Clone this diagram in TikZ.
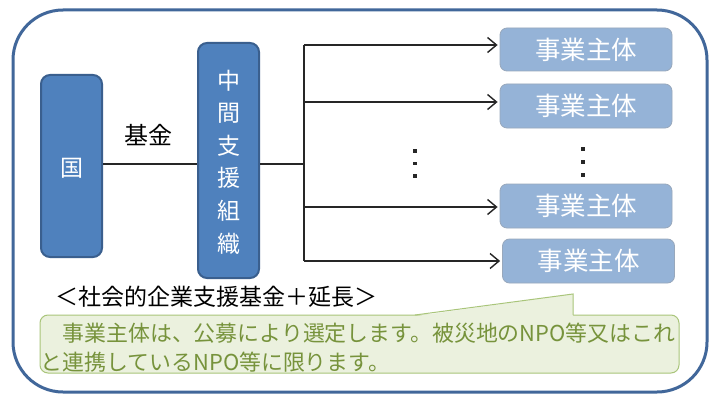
\documentclass[tikz,border=0pt]{standalone}
\usepackage{fontspec}
\newfontfamily\jp{Noto Sans CJK JP}
\usetikzlibrary{arrows.meta}
\definecolor{outerblue}{HTML}{41679A}
\definecolor{boxblue}{HTML}{4F81BD}
\definecolor{boxedge}{HTML}{3A5F8E}
\definecolor{entfill}{HTML}{95B3D7}
\definecolor{entedge}{HTML}{98A8BC}
\definecolor{notefill}{HTML}{EBF1DE}
\definecolor{noteedge}{HTML}{A9C57A}
\definecolor{notetext}{HTML}{77933C}
\tikzset{
  bigbox/.style={draw=boxedge, line width=2pt, fill=boxblue, rounded corners=9pt,
    minimum width=61pt, inner sep=0pt, text=white, font=\jp},
  entity/.style={draw=entedge, line width=0.8pt, fill=entfill, rounded corners=7pt,
    minimum width=172pt, minimum height=44pt, inner sep=0pt, text=white,
    font=\jp\fontsize{25.5}{25.5}\selectfont},
  conn/.style={line width=1.4pt, black!85},
  arr/.style={conn, -{Straight Barb[length=9pt, width=15pt, line width=1.4pt]}, shorten >=2pt},
  dotsq/.style={fill=black!85},
}
\begin{document}
\begin{tikzpicture}[x=1pt, y=-1pt]
\useasboundingbox (0,0) rectangle (715,396);
\fill[white] (0,0) rectangle (715,396);
% outer frame
\draw[outerblue, line width=3pt, rounded corners=50pt] (13,10) rectangle (707,392);
% main boxes
\node[bigbox, minimum height=182pt] (guo) at (71.5,166) {};
\node[text=white, font=\jp\fontsize{23}{23}\selectfont] (guot) at (71.5,168) {国};
\node[bigbox, minimum height=235pt] (mid) at (228.5,160.5) {};
\node[text=white, font=\jp\fontsize{23}{32.6}\selectfont, align=center, inner sep=0pt] (midt) at (228.5,162) {中\\間\\支\\援\\組\\織};
% entities
\node[entity, minimum height=43pt] (e1) at (586,49.5) {事業主体};
\node[entity] (e2) at (586,106) {事業主体};
\node[entity] (e3) at (586,206) {事業主体};
\node[entity] (e4) at (588.5,261) {事業主体};
% connectors
\coordinate (j) at (304,164);
\coordinate (b1) at (304,45);
\coordinate (b2) at (304,102);
\coordinate (b3) at (304,207);
\coordinate (b4) at (304,261);
\draw[conn] (guo.east |- j) -- (mid.west |- j);
\draw[conn] (mid.east |- j) -- (j);
\draw[conn] (b1) -- (b4);
\draw[arr] (b1) -- (b1 -| e1.west);
\draw[arr] (b2) -- (b2 -| e2.west);
\draw[arr] (b3) -- (b3 -| e3.west);
\draw[arr] (b4) -- (b4 -| e4.west);
\node[font=\jp\fontsize{24}{24}\selectfont] (fund) at (148,135) {基金};
% vertical dots
\foreach \yy in {151,163.5,176} {\fill[dotsq] (413.2,\yy-1.8) rectangle +(3.6,3.6);}
\foreach \yy in {149,162,175} {\fill[dotsq] (581.2,\yy-1.8) rectangle +(3.6,3.6);}
% label
\node[font=\jp\fontsize{23}{23}\selectfont, inner sep=0pt] (lab) at (216,297) {＜社会的企業支援基金＋延長＞};
% callout
\node[draw=noteedge, line width=1pt, fill=notefill, rounded corners=8pt, minimum width=639pt, minimum height=58pt, inner sep=0pt] (note) at (359.5,344) {};
\fill[notefill] (415,316.2) -- (573,294) -- (573,316.2) -- cycle;
\draw[noteedge, line width=1pt] (415,315) -- (573,294) -- (573,315);
\node[anchor=west, align=left, inner sep=0pt, text=notetext, font=\jp\fontsize{21.9}{29}\selectfont] (notet) at (40.5,347.5) {　事業主体は、公募により選定します。被災地のNPO等又はこれ\\と連携しているNPO等に限ります。};
\end{tikzpicture}
\end{document}
